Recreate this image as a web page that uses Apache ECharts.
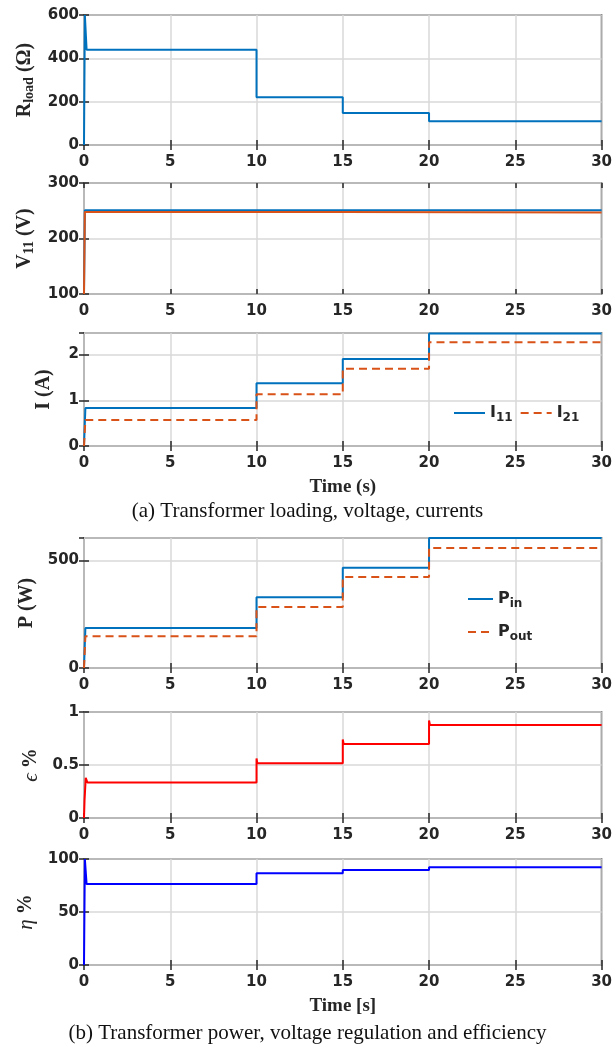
<!DOCTYPE html>
<html>
<head>
<meta charset="utf-8">
<script src="https://cdn.jsdelivr.net/npm/echarts@6/dist/echarts.min.js"></script>
<style>
html, body { margin: 0; padding: 0; background: #fff; }
#main { width: 615px; height: 1046px; }
</style>
</head>
<body>
<div id="main"></div>
<script>
// time (s) at which each trace takes a new level, value holds until next time
var xTicks = [0, 5, 10, 15, 20, 25, 30];

var rTime = [0, 0.05, 0.15, 10, 15, 20, 30];
var rLoad = [0, 600, 440, 220, 148, 110, 110];

var v11Time = [0, 0.05, 30];
var v11 = [100, 251, 251];
var v21Time = [0, 0.05, 15, 30];
var v21 = [100, 247.8, 246.8, 246.8];

var iTime = [0, 0.08, 10, 15, 20, 30];
var i11 = [0, 0.83, 1.37, 1.90, 2.46, 2.46];
var i21 = [0, 0.57, 1.13, 1.69, 2.27, 2.27];

var pTime = [0, 0.08, 10, 15, 20, 30];
var pIn = [0, 186, 329, 467, 605, 605];
var pOut = [0, 148, 284, 424, 559, 559];

var eTime = [0, 0.03, 0.1, 0.2, 10, 10.05, 15, 15.05, 20, 20.05, 30];
var eps = [0, 0.16, 0.38, 0.334, 0.5625, 0.516, 0.74, 0.697, 0.92, 0.878, 0.878];

var hTime = [0, 0.05, 0.15, 10, 15, 20, 30];
var eta = [0, 100, 76.3, 86.6, 89.7, 92.2, 92.2];

var dark = '#262626';
var blue = '#0072BD', orange = '#D95319';
var tickFont = 'DejaVu Sans';
var nameFont = 'Liberation Serif';

var chart = echarts.init(document.getElementById('main'));

function pairs(t, v) {
    var out = [];
    for (var i = 0; i < t.length; i++) out.push([t[i], v[i]]);
    return out;
}

var subRich = {
    b: { fontFamily: nameFont, fontWeight: 'bold', fontSize: 20, color: dark },
    s: { fontFamily: nameFont, fontWeight: 'bold', fontSize: 14, color: dark, padding: [10, 0, 0, 0] },
    g: { fontFamily: nameFont, fontStyle: 'italic', fontSize: 21, color: dark }
};

// one panel = grid + 2 x axes (bottom/top) + 2 y axes (left/right)
var panels = [
    { top: 15, height: 130, min: 0, max: 600, interval: 200, name: '{b|R}{s|load}{b| (Ω)}', gap: 46 },
    { top: 183, height: 111, min: 100, max: 300, interval: 100, name: '{b|V}{s|11}{b| (V)}', gap: 46 },
    { top: 333, height: 113, min: 0, max: 2.47, interval: 1, name: '{b|I (A)}', gap: 30, xName: 'Time (s)' },
    { top: 538, height: 130, min: 0, max: 605, interval: 500, name: '{b|P (W)}', gap: 40 },
    { top: 712, height: 106, min: 0, max: 1, interval: 0.5, name: '{g|ϵ}{b| %}', gap: 37 },
    { top: 859, height: 106, min: 0, max: 100, interval: 50, name: '{g|η}{b| %}', gap: 40, xName: 'Time [s]' }
];

var grids = [], xAxes = [], yAxes = [];
panels.forEach(function (p, i) {
    grids.push({
        left: 84, right: 13, top: p.top, height: p.height,
        show: true, borderColor: dark, borderWidth: 1.5
    });
    var tick = { show: true, inside: true, length: 5, lineStyle: { color: dark, width: 1.5 } };
    xAxes.push({
        type: 'value', gridIndex: i, min: 0, max: 30, interval: 5, position: 'bottom',
        axisLine: { show: false }, axisTick: tick,
        axisLabel: { color: dark, fontFamily: tickFont, fontWeight: 'bold', fontSize: 15, margin: 10 },
        splitLine: { show: true, lineStyle: { color: '#d9d9d9', width: 1.5 } },
        name: p.xName || '', nameLocation: 'middle', nameGap: 32,
        nameTextStyle: { fontFamily: nameFont, fontWeight: 'bold', fontSize: 19, color: dark }
    });
    xAxes.push({
        type: 'value', gridIndex: i, min: 0, max: 30, interval: 5, position: 'top',
        axisLine: { show: false }, axisTick: tick, axisLabel: { show: false }, splitLine: { show: false }
    });
    yAxes.push({
        type: 'value', gridIndex: i, min: p.min, max: p.max, interval: p.interval, position: 'left',
        axisLine: { show: false }, axisTick: tick,
        axisLabel: { color: dark, fontFamily: tickFont, fontWeight: 'bold', fontSize: 15, margin: 5, showMaxLabel: p.max % p.interval === 0 },
        splitLine: { show: true, lineStyle: { color: '#d9d9d9', width: 1.5 } },
        name: p.name, nameLocation: 'middle', nameGap: p.gap, nameRotate: 90,
        nameTextStyle: { rich: subRich }
    });
    yAxes.push({
        type: 'value', gridIndex: i, min: p.min, max: p.max, interval: p.interval, position: 'right',
        axisLine: { show: false }, axisTick: tick, axisLabel: { show: false }, splitLine: { show: false }
    });
});

function stepLine(name, idx, t, v, color, dashed) {
    return {
        name: name, type: 'line', step: 'end', symbol: 'none', animation: false,
        xAxisIndex: idx * 2, yAxisIndex: idx * 2,
        data: pairs(t, v),
        lineStyle: { color: color, width: 2, type: dashed ? [8, 5] : 'solid' },
        itemStyle: { color: color }
    };
}

var legendRich = {
    b: { fontFamily: tickFont, fontWeight: 'bold', fontSize: 16, color: dark },
    s: { fontFamily: tickFont, fontWeight: 'bold', fontSize: 12, color: dark, padding: [10, 0, 0, 0] }
};
var legendNames = { I11: '{b|I}{s|11}', I21: '{b|I}{s|21}', Pin: '{b|P}{s|in}', Pout: '{b|P}{s|out}' };

var option = {
    backgroundColor: '#fff',
    grid: grids,
    xAxis: xAxes,
    yAxis: yAxes,
    legend: [
        {
            data: ['I11', 'I21'], left: 453, top: 405, orient: 'horizontal',
            itemWidth: 31, itemGap: 7, padding: 0,
            itemStyle: { opacity: 0 },
            formatter: function (n) { return legendNames[n]; },
            textStyle: { rich: legendRich }
        },
        {
            data: ['Pin', 'Pout'], left: 467, top: 591, orient: 'vertical',
            itemWidth: 25, itemGap: 14, padding: 0,
            itemStyle: { opacity: 0 },
            formatter: function (n) { return legendNames[n]; },
            textStyle: { rich: legendRich }
        }
    ],
    graphic: [
        {
            type: 'text', left: 'center', top: 501,
            style: { text: '(a) Transformer loading, voltage, currents', font: '21px "Liberation Serif"', fill: '#111' }
        },
        {
            type: 'text', left: 'center', top: 1023,
            style: { text: '(b) Transformer power, voltage regulation and efficiency', font: '21px "Liberation Serif"', fill: '#111' }
        }
    ],
    series: [
        stepLine('R', 0, rTime, rLoad, blue),
        stepLine('V11', 1, v11Time, v11, blue),
        stepLine('V21', 1, v21Time, v21, orange),
        stepLine('I11', 2, iTime, i11, blue),
        stepLine('I21', 2, iTime, i21, orange, true),
        stepLine('Pin', 3, pTime, pIn, blue),
        stepLine('Pout', 3, pTime, pOut, orange, true),
        stepLine('eps', 4, eTime, eps, '#FF0000'),
        stepLine('eta', 5, hTime, eta, '#0000FF')
    ]
};
chart.setOption(option);
</script>
</body>
</html>
